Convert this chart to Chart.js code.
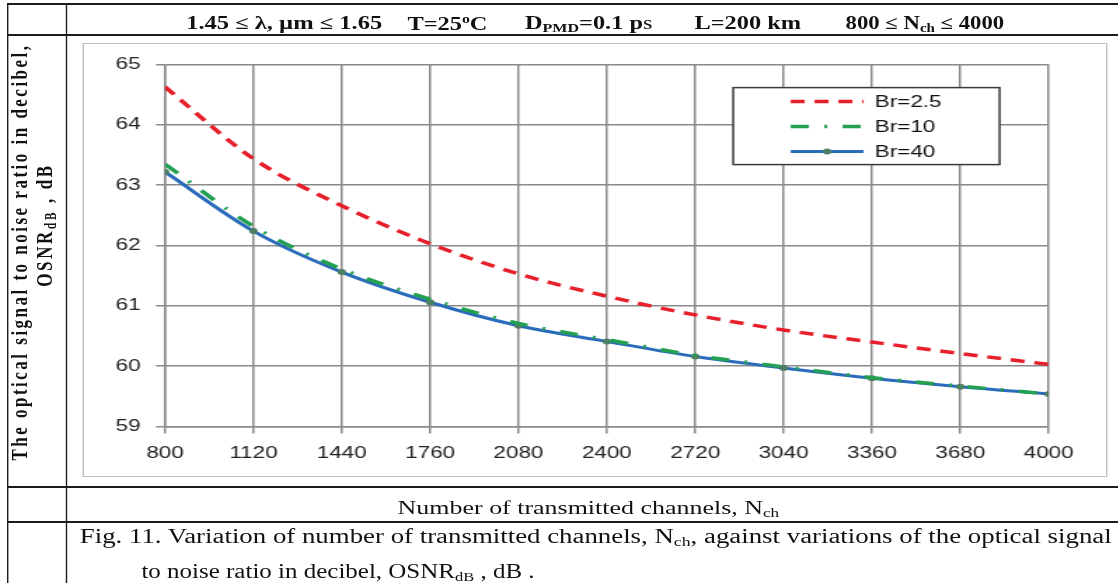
<!DOCTYPE html>
<html>
<head>
<meta charset="utf-8">
<script src="https://cdn.jsdelivr.net/npm/chart.js@4.4.1/dist/chart.umd.min.js"></script>
<style>
    html, body { margin: 0; padding: 0; background: #fff; overflow: hidden; }
    body { width: 1118px; height: 583px; position: relative; }
    /* the source figure is stretched sideways, so the whole page is too */
    #page {
        position: absolute; left: 0; top: 0; width: 800px; height: 583px;
        transform: scaleX(1.4); transform-origin: 0 0;
        font-family: 'Liberation Serif', 'Times New Roman', serif; color: #111;
    }
    .hl { position: absolute; left: 4.5px; width: 800px; height: 2px; background: #1c1c1c; }
    .vl { position: absolute; top: 3px; width: 1.5px; height: 590px; background: #1c1c1c; }
    .txt { position: absolute; white-space: nowrap; line-height: 1; transform-origin: 0 50%; }
    .hdr { font-size: 18px; font-weight: bold; top: 14px; }
    .rot { position: absolute; white-space: nowrap; line-height: normal; font-weight: bold; font-size: 17px; }
    sub { font-size: 0.66em; vertical-align: -0.25em; line-height: 0; }
    #chartBox {
        position: absolute; left: 59.3px; top: 43px; width: 731.4px; height: 434px;
        border: 1.5px solid #bdbdbd; box-sizing: border-box;
    }
</style>
</head>
<body>
<div id="page">
    <div class="hl" style="top:3px"></div>
    <div class="hl" style="top:34px"></div>
    <div class="hl" style="top:486px"></div>
    <div class="hl" style="top:521px"></div>
    <div class="vl" style="left:4.5px"></div>
    <div class="vl" style="left:46.5px"></div>

    <div class="txt hdr" style="left:132.9px" data-w="140">1.45 ≤ λ, µm ≤ 1.65</div>
    <div class="txt hdr" style="left:290.7px" data-w="57.1">T=25<sup style="font-size:0.65em">o</sup>C</div>
    <div class="txt hdr" style="left:375px" data-w="90.7">D<sub>PMD</sub>=0.1 p<span style="font-weight:normal">s</span></div>
    <div class="txt hdr" style="left:496.4px" data-w="76.4">L=200 km</div>
    <div class="txt hdr" style="left:604.3px" data-w="113.6">800 ≤ N<sub>ch</sub> ≤ 4000</div>

    <div class="rot" style="left:14.3px; top:251.5px" data-len="417">The optical signal to noise ratio in decibel,</div>
    <div class="rot" style="left:31.8px; top:225px" data-len="124">OSNR<sub>dB</sub> , dB</div>

    <div id="chartBox"><canvas id="osnrChart"></canvas></div>

    <div class="txt" style="left:284.3px; top:499px; font-size:18px" data-w="272.9">Number of transmitted channels, N<sub>ch</sub></div>
    <div class="txt" style="left:57.1px; top:526px; font-size:20px" data-w="737.1">Fig. 11. Variation of number of transmitted channels, N<sub>ch</sub>, against variations of the optical signal</div>
    <div class="txt" style="left:101.2px; top:561px; font-size:20px" data-w="281">to noise ratio in decibel, OSNR<sub>dB</sub> , dB .</div>
</div>

<script>
// values
const channels = [800, 1120, 1440, 1760, 2080, 2400, 2720, 3040, 3360, 3680, 4000];
const osnrBr2_5 = [64.63, 63.44, 62.66, 62.03, 61.53, 61.16, 60.85, 60.60, 60.40, 60.21, 60.03];
const osnrBr10 = [63.35, 62.32, 61.61, 61.11, 60.71, 60.44, 60.18, 59.99, 59.81, 59.67, 59.54];
const osnrBr40 = [63.22, 62.24, 61.56, 61.06, 60.67, 60.41, 60.16, 59.97, 59.80, 59.66, 59.54];
const seriesNames = ['Br=2.5', 'Br=10', 'Br=40'];
const xTicks = [800, 1120, 1440, 1760, 2080, 2400, 2720, 3040, 3360, 3680, 4000];
const yTicks = [59, 60, 61, 62, 63, 64, 65];

// stretch header / caption text to the widths seen in the figure
document.querySelectorAll('[data-w]').forEach(el => {
    const w = el.offsetWidth;
    el.style.transform = `scaleX(${parseFloat(el.dataset.w) / w})`;
});
// rotated y label lines: spread letters to the measured length
document.querySelectorAll('[data-len]').forEach(el => {
    const n = el.textContent.length;
    const extra = (parseFloat(el.dataset.len) - el.offsetWidth) / n;
    el.style.letterSpacing = extra + 'px';
    el.style.transform = 'translate(-50%, -50%) rotate(-90deg)';
});

const toPoints = arr => arr.map((v, i) => ({ x: channels[i], y: v }));

const legendBox = {
    id: 'legendBox',
    afterDraw(chart) {
        const { ctx, chartArea } = chart;
        const x0 = chartArea.right - 225, y0 = chartArea.top + 23;
        ctx.save();
        ctx.fillStyle = '#fff';
        ctx.strokeStyle = '#3a3a3a';
        ctx.lineWidth = 1.5;
        ctx.fillRect(x0, y0, 190, 77);
        ctx.strokeRect(x0, y0, 190, 77);
        chart.data.datasets.forEach((ds, i) => {
            const y = y0 + 14 + i * 25;
            ctx.strokeStyle = ds.borderColor;
            ctx.lineWidth = ds.borderWidth;
            ctx.setLineDash(ds.borderDash || []);
            ctx.beginPath();
            ctx.moveTo(x0 + 41, y);
            ctx.lineTo(x0 + 93, y);
            ctx.stroke();
            ctx.setLineDash([]);
            if (ds.pointRadius) {
                ctx.fillStyle = ds.pointBackgroundColor;
                ctx.beginPath();
                ctx.arc(x0 + 67, y, ds.pointRadius, 0, Math.PI * 2);
                ctx.fill();
            }
            ctx.fillStyle = '#111';
            ctx.font = '16px "Liberation Sans", Arial, sans-serif';
            ctx.textBaseline = 'middle';
            ctx.fillText(ds.label, x0 + 101, y + 1);
        });
        ctx.restore();
    }
};

const gridColor = '#8a8a8a';
const tickFont = { family: '"Liberation Sans", Arial, sans-serif', size: 16 };

new Chart(document.getElementById('osnrChart'), {
    type: 'line',
    data: {
        datasets: [
            {
                label: seriesNames[0],
                data: toPoints(osnrBr2_5),
                borderColor: '#e61f2a',
                borderWidth: 3.5,
                borderDash: [10, 7],
                pointRadius: 0,
                cubicInterpolationMode: 'monotone'
            },
            {
                label: seriesNames[1],
                data: toPoints(osnrBr10),
                borderColor: '#23a052',
                borderWidth: 3.5,
                borderDash: [13, 11, 2, 11],
                pointRadius: 0,
                cubicInterpolationMode: 'monotone'
            },
            {
                label: seriesNames[2],
                data: toPoints(osnrBr40),
                borderColor: '#2a6cbb',
                borderWidth: 3,
                pointRadius: 3,
                pointBackgroundColor: '#4f7f62',
                pointBorderWidth: 0,
                cubicInterpolationMode: 'monotone'
            }
        ]
    },
    options: {
        responsive: true,
        maintainAspectRatio: false,
        animation: false,
        layout: { padding: { top: 15.5, right: 41.3, left: 0, bottom: 0 } },
        plugins: { legend: { display: false }, tooltip: { enabled: false } },
        scales: {
            x: {
                type: 'linear',
                min: 800,
                max: 4000,
                afterBuildTicks: axis => { axis.ticks = xTicks.map(v => ({ value: v })); },
                afterFit: axis => { axis.height = 49.5; },
                grid: { color: gridColor, lineWidth: 1.5, tickLength: 7 },
                border: { color: gridColor, width: 1.5 },
                ticks: {
                    maxRotation: 0,
                    autoSkip: false,
                    padding: 10,
                    color: '#222',
                    font: tickFont,
                    callback: v => String(v)
                }
            },
            y: {
                min: 59,
                max: 65,
                afterBuildTicks: axis => { axis.ticks = yTicks.map(v => ({ value: v })); },
                afterFit: axis => { axis.width = 57.8; },
                grid: { color: gridColor, lineWidth: 1.5, tickLength: 6.5 },
                border: { color: gridColor, width: 1.5 },
                ticks: {
                    padding: 11,
                    color: '#222',
                    font: tickFont,
                    callback: v => String(v)
                }
            }
        }
    },
    plugins: [legendBox]
});
</script>
</body>
</html>
